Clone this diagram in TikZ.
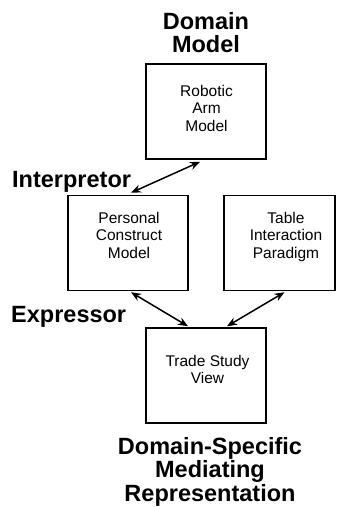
\documentclass[tikz,border=0pt]{standalone}
\usepackage{fontspec}
\setmainfont{Liberation Sans}
\usetikzlibrary{arrows.meta,calc}

\tikzset{
  modelbox/.style={draw, line width=1.5pt, minimum width=120pt, minimum height=95pt, inner sep=0pt},
  boxtext/.style={align=center, inner sep=0pt, anchor=north,
    font=\fontsize{15.5}{17.5}\selectfont},
  biglabel/.style={align=center, inner sep=0pt,
    font=\fontsize{23.5}{23.5}\selectfont\bfseries},
  link/.style={line width=1.5pt, {Stealth[length=10pt,width=8pt]}-{Stealth[length=10pt,width=8pt]}}
}

\begin{document}
\begin{tikzpicture}[x=1pt,y=-1pt]
  \useasboundingbox (0,0) rectangle (337,507);

  % boxes
  \node[modelbox] (ram) at (206,111.5) {};
  \node[modelbox] (pcm) at (128,243) {};
  \node[modelbox, minimum width=111pt] (tip) at (279.5,243) {};
  \node[modelbox] (tsv) at (206,375.5) {};

  % box contents
  \node[boxtext] (ramtxt) at (206.5,85) {Robotic\\Arm\\Model};
  \node[boxtext] (pcmtxt) at (129,212) {Personal\\Construct\\Model};
  \node[boxtext] (tiptxt) at (286,212) {Table\\Interaction\\Paradigm};
  \node[boxtext] (tsvtxt) at (207.5,355) {Trade Study\\View};

  % labels
  \node[biglabel, anchor=north] (dmlbl) at (206,12) {Domain\\Model};
  \node[biglabel, anchor=base west] (interp) at (12,187) {Interpretor};
  \node[biglabel, anchor=base west] (expr) at (11,322) {Expressor};
  \node[biglabel, anchor=north] (dsmr) at (210,437) {Domain-Specific\\Mediating\\Representation};

  % connectors
  \draw[link] ($(ram.south)+(-6,2)$) -- ($(pcm.north)+(3,-2)$);
  \draw[link] ($(pcm.south)+(3,1)$) -- ($(tsv.north)+(-18,-1)$);
  \draw[link] ($(tip.south)+(5,1)$) -- ($(tsv.north)+(21,-1)$);
\end{tikzpicture}
\end{document}
